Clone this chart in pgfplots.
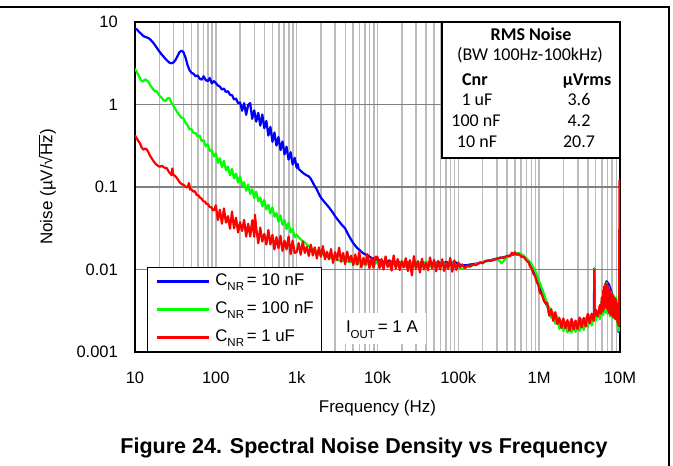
\documentclass[border=0pt]{standalone}
\usepackage{fontspec}
\setmainfont{Liberation Sans}
\newfontfamily\calibri{Carlito}
\usepackage{pgfplots}
\pgfplotsset{compat=1.18}
\definecolor{gridlight}{HTML}{BBBBBB}
\definecolor{griddark}{HTML}{808080}
\definecolor{cblue}{HTML}{0000FF}
\definecolor{cgreen}{HTML}{00FF00}
\definecolor{cred}{HTML}{FF0000}
\newcommand\lowsub[1]{\raisebox{-0.3em}{\fontsize{11.5bp}{12bp}\selectfont #1}}
\newcommand\ovl[1]{$\overline{\hbox{#1}}$}
\begin{document}
\begin{tikzpicture}
\useasboundingbox (0bp,0bp) rectangle (673bp,466bp);
\fill[white] (0bp,0bp) rectangle (673bp,466bp);
\begin{axis}[
  at={(135bp,114bp)}, anchor=south west,
  scale only axis, width=485bp, height=330bp,
  xmode=log, ymode=log,
  xmin=10, xmax=1e7, ymin=0.001, ymax=10,
  xtick={10,100,1000,10000,100000,1000000,10000000},
  xticklabels={10,100,1k,10k,100k,1M,10M},
  ytick={0.001,0.01,0.1,1,10},
  yticklabels={0.001,0.01,0.1,1,10},
  minor xtick={20,30,40,50,60,70,80,90,200,300,400,500,600,700,800,900,2000,3000,4000,5000,6000,7000,8000,9000,20000,30000,40000,50000,60000,70000,80000,90000,200000,300000,400000,500000,600000,700000,800000,900000,2e6,3e6,4e6,5e6,6e6,7e6,8e6,9e6},
  major tick length=0pt, minor tick length=0pt,
  xmajorgrids=true, xminorgrids=true, ymajorgrids=true, yminorgrids=false,
  major x grid style={gridlight, line width=1.6bp},
  minor x grid style={gridlight, line width=1.6bp},
  major y grid style={griddark, line width=1.7bp},
  axis line style={black, line width=2.2bp},
  tick label style={font=\fontsize{16.5bp}{19bp}\selectfont, black},
  xticklabel style={anchor=base, inner sep=0pt, yshift=-31.5bp},
  yticklabel style={anchor=east, inner sep=0pt, xshift=-17bp},
  xlabel={Frequency (Hz)},
  xlabel style={at={(axis description cs:0.5,-0.1848)}, anchor=base, inner sep=0pt, font=\fontsize{17bp}{20bp}\selectfont},
  ylabel={Noise (µV/√\ovl{Hz})},
  ylabel style={at={(axis description cs:-0.1705,0.5)}, anchor=base, inner sep=0pt, font=\fontsize{17bp}{20bp}\selectfont},
  legend style={at={(axis description cs:0.0247,0)}, anchor=south west, draw=black, line width=1.5bp, fill=white,
    inner xsep=8bp, inner ysep=6bp, row sep=12bp, column sep=5bp,
    font=\fontsize{16.8bp}{19bp}\selectfont,
    nodes={inner sep=0pt, text height=12bp, text depth=4bp}},
  legend cell align=left,
  legend image code/.code={\draw[#1, line width=2.6bp] (0bp,0bp) -- (52bp,0bp);},
  every axis plot/.append style={line width=2.2bp, line join=round},
]
\addplot[cblue, mark=none] coordinates {
(10,8.3)(10.6,8.1)(11.2,7.6)(11.9,7.2)(12.6,6.8)(13.3,6.6)(14.1,6.5)(15,6.3)(15.8,6.0)(16.8,5.6)(17.8,5.2)(18.8,4.8)(20,4.4)(21.1,4.1)(22.4,3.84)(23.7,3.6)(25.1,3.4)(26.6,3.22)(28.2,3.16)(29.8,3.22)(31.6,3.45)(33.5,3.85)(35.5,4.3)(37.6,4.5)(39.8,4.3)(42.2,3.7)(44.7,3.0)(47.3,2.6)(50.1,2.42)(53.1,2.35)(56.2,2.2)(59.6,2.25)(63.1,2.06)(66.8,2.0)(70.8,2.2)(75,1.98)(79.4,1.92)(84.1,2.1)(89.1,1.8)(94.4,1.92)
(100,1.82)(106,1.7)(112,1.65)(119,1.52)(126,1.56)(133,1.42)(141,1.45)(150,1.31)(158.5,1.3)(168,1.15)(178,1.18)(188,1.04)(199.5,1.06)
(211.3,0.84)(223.9,1.04)(237.1,0.75)(251.2,0.99)(266.1,1.04)(281.8,0.67)(298.5,0.85)(316.2,0.62)(335,0.79)(354.8,0.554)(375.8,0.756)(398.1,0.516)(421.7,0.633)(446.7,0.42)(473.2,0.534)(501.2,0.353)(530.9,0.458)(562.3,0.318)(595.7,0.403)(631,0.28)(668.3,0.357)(707.9,0.249)(749.9,0.308)(794.3,0.215)(841.4,0.264)(891.3,0.187)(944.1,0.226)(1000,0.171)
(1030,0.19)(1060,0.165)(1100,0.16)(1200,0.148)(1300,0.14)(1400,0.135)(1462,0.13)(1550,0.118)(1650,0.105)(1770,0.094)(1900,0.081)(2000,0.074)(2200,0.066)(2500,0.057)(2843,0.048)(3000,0.044)(3300,0.039)(3600,0.035)(3967,0.0316)(4300,0.027)(4600,0.024)(5024,0.0208)(5500,0.0186)(6000,0.0172)(6600,0.0158)(7350,0.015)(8000,0.0143)(8500,0.0138)(9000,0.0135)(9780,0.0132)(11000,0.0128)
(12600,0.0122)(14100,0.0129)(15800,0.0117)(17800,0.0126)(20000,0.0116)(22400,0.0125)(25100,0.0115)(28200,0.0124)(31600,0.0114)(35500,0.0124)(39800,0.0115)(44700,0.0123)(50100,0.0114)(56200,0.0124)(63100,0.0115)(70800,0.0124)(79400,0.0116)(89100,0.0124)(100000,0.0117)(112000,0.0112)(126000,0.0113)(141000,0.0115)(158000,0.0117)(178000,0.0119)(200000,0.0123)(224000,0.0127)(251000,0.013)(282000,0.0134)(316000,0.0137)(355000,0.014)(398000,0.0144)(436000,0.0148)(480000,0.0153)(527000,0.0156)(562000,0.0154)(600000,0.015)(650000,0.0142)(701000,0.0132)(750000,0.0122)(800000,0.0112)(848000,0.0098)(900000,0.0087)(950000,0.0074)(1.0e6,0.0062)(1.07e6,0.0052)(1.14e6,0.0045)(1.24e6,0.0037)(1.38e6,0.0031)(1.5e6,0.0027)(1.65e6,0.0024)(2.0e6,0.0021)(2.65e6,0.002)(3.5e6,0.0022)(4.4e6,0.0025)(4.75e6,0.0026)(4.81e6,0.0103)(4.87e6,0.0027)(5.5e6,0.003)(6.0e6,0.0038)(6.5e6,0.006)(6.8e6,0.0072)(7.3e6,0.0066)(8.0e6,0.005)(8.8e6,0.0042)(9.3e6,0.0026)(9.6e6,0.00175)(1.0e7,0.0018)
};
\addlegendentry{C\lowsub{NR}\,= 10 nF}
\addplot[cgreen, mark=none] coordinates {
(10,2.72)(10.6,2.45)(11.2,2.2)(11.9,1.95)(12.6,1.9)(13.3,2.02)(14,1.95)(14.6,1.9)(15.5,1.7)(16.5,1.56)(17.7,1.44)(18.5,1.46)(19.5,1.33)(20.5,1.25)(21.5,1.2)(22.4,1.14)(23.7,1.1)(25.1,1.18)(26.6,1.2)(28.2,1.05)(29.8,0.97)(31.6,0.88)(33.5,0.8)(35.5,0.74)(37.6,0.69)(39.8,0.68)(42.2,0.6)(44.7,0.56)(47.3,0.5)(50.1,0.5)(53.1,0.45)(56.2,0.45)(59.6,0.41)(63.1,0.42)(66.8,0.36)(70.8,0.37)(75,0.31)(79.4,0.33)(84.1,0.275)(89.1,0.28)(94.4,0.235)
(100,0.255)(105.9,0.196)(112.2,0.223)(118.9,0.174)(125.9,0.2075)(133.4,0.1597)(141.3,0.1763)(149.6,0.1387)(158.5,0.1657)(167.9,0.1273)(177.8,0.1447)(188.4,0.113)(199.5,0.1347)(211.3,0.1037)(223.9,0.1145)(237.1,0.09)(251.2,0.1076)(266.1,0.0826)(281.8,0.094)(298.5,0.0733)(316.2,0.0875)(335,0.0673)(354.8,0.0743)(375.8,0.0584)(398.1,0.0698)(421.7,0.0536)(446.7,0.061)(473.2,0.0476)(501.2,0.0568)(530.9,0.0437)(562.3,0.0482)(595.7,0.0379)(631,0.0453)(668.3,0.0348)(707.9,0.0396)(749.9,0.0309)(794.3,0.0368)(841.4,0.0284)(891.3,0.0313)(944.1,0.0246)
(1000,0.0265)(1060,0.0245)(1122,0.0232)(1190,0.0222)(1260,0.0212)(1330,0.0202)(1413,0.0192)(1500,0.0184)(1600,0.0176)(1700,0.0168)(1800,0.0158)(1900,0.0152)(2000,0.015)(2100,0.0155)(2240,0.0146)(2500,0.0141)(2800,0.0136)(3100,0.0131)(3500,0.0128)(4000,0.0126)(4500,0.0124)
(5000,0.0123)(5620,0.0115)(6310,0.0126)(7080,0.0112)(7940,0.0125)(8910,0.0111)(10000,0.0126)(11200,0.011)(12600,0.0125)(14100,0.0109)(15800,0.0127)(17800,0.011)(20000,0.0125)(22400,0.0108)(25100,0.0126)(28200,0.0109)(31600,0.0125)(35500,0.0108)(39800,0.0126)(44700,0.0109)(50100,0.0125)(56200,0.0108)(63100,0.0124)(70800,0.0109)(79400,0.0125)(89100,0.0108)(100000,0.0112)
(105000,0.0103)(112000,0.0101)(120000,0.0104)(135000,0.011)(150000,0.0112)(170000,0.0117)(185000,0.012)(210000,0.0124)(250000,0.0128)(298000,0.0134)(320000,0.0128)(344000,0.0119)(365000,0.0128)(400000,0.014)(436000,0.0148)(470000,0.0152)(527000,0.0156)(560000,0.0158)(600000,0.0154)(650000,0.0146)(701000,0.0136)(750000,0.0127)(800000,0.0118)(848000,0.0106)(900000,0.0095)(950000,0.0083)(1.0e6,0.0072)(1.06e6,0.0062)(1.12e6,0.0054)(1.19e6,0.0045)(1.26e6,0.0039)
(1.3e6,0.003)(1.34e6,0.0035)(1.41e6,0.0026)(1.5e6,0.003)(1.58e6,0.0022)(1.68e6,0.0027)(1.78e6,0.0019)(1.88e6,0.0024)(2.0e6,0.0018)(2.11e6,0.0023)(2.24e6,0.00172)(2.37e6,0.0023)(2.51e6,0.00172)(2.66e6,0.0023)(2.82e6,0.00175)(2.99e6,0.0024)(3.16e6,0.0018)(3.35e6,0.0025)(3.55e6,0.00185)(3.76e6,0.0026)(3.98e6,0.002)(4.22e6,0.0028)(4.47e6,0.0021)(4.73e6,0.0028)(4.78e6,0.0025)(4.81e6,0.0101)(4.84e6,0.0025)(5.01e6,0.0024)(5.31e6,0.0031)(5.62e6,0.0025)(5.96e6,0.0043)(6.2e6,0.0028)(6.4e6,0.0062)(6.6e6,0.003)(6.8e6,0.0069)(7.0e6,0.0029)(7.2e6,0.0062)(7.5e6,0.0027)(7.8e6,0.0053)(8.1e6,0.0026)(8.4e6,0.0048)(8.7e6,0.0025)(9.0e6,0.0046)(9.3e6,0.0021)(9.6e6,0.0018)(1.0e7,0.002)
};
\addlegendentry{C\lowsub{NR}\,= 100 nF}
\addplot[cred, mark=none] coordinates {
(10,0.42)(10.5,0.39)(11,0.36)(11.5,0.34)(12,0.305)(12.7,0.283)(13.3,0.292)(14,0.285)(14.7,0.262)(15.3,0.24)(16,0.225)(17,0.205)(18,0.19)(18.6,0.186)(19.5,0.179)(20.4,0.176)(21.5,0.181)(22.4,0.175)(23.5,0.17)(24.7,0.169)(26,0.155)(27.2,0.146)(28.3,0.139)(29,0.168)(29.8,0.141)(31,0.137)(32.5,0.131)(34,0.123)(36,0.113)(37.6,0.109)(39.6,0.106)(41,0.104)(43,0.099)(45,0.1)(46.5,0.112)(48,0.093)(50,0.094)(52.6,0.088)(55,0.089)(58,0.08)(61,0.079)(64,0.074)(67,0.072)(70,0.067)(73,0.067)(76.9,0.062)(80,0.062)(84,0.057)(88,0.057)(92,0.052)(96,0.053)
(100,0.06)(105.9,0.0398)(112.2,0.0531)(118.9,0.0359)(125.9,0.055)(133.4,0.037)(141.3,0.0443)(149.6,0.0312)(158.5,0.0504)(167.9,0.0315)(177.8,0.0425)(188.4,0.0281)(199.5,0.0374)(211.3,0.0293)(223.9,0.04)(237.1,0.0251)(251.2,0.0358)(266.1,0.0252)(281.8,0.0395)(298.5,0.0249)(305,0.046)(316.2,0.0316)(335,0.0208)(354.8,0.0322)(375.8,0.0218)(398.1,0.027)(421.7,0.0201)(446.7,0.0302)(473.2,0.0201)(501.2,0.0263)(530.9,0.0175)(562.3,0.0247)(595.7,0.0181)(631,0.0256)(668.3,0.0168)(707.9,0.0224)(749.9,0.0175)(794.3,0.0251)(841.4,0.0154)(891.3,0.0224)(944.1,0.0159)
(1000,0.0163)(1059,0.0209)(1122,0.0151)(1189,0.0218)(1259,0.0159)(1334,0.0189)(1413,0.0146)(1496,0.02)(1585,0.0148)(1679,0.0186)(1778,0.0136)(1884,0.0185)(1995,0.0143)(2113,0.0192)(2239,0.0133)(2371,0.0164)(2512,0.0133)(2661,0.0177)(2818,0.012)(2985,0.0162)(3162,0.013)(3350,0.0184)(3548,0.0124)(3758,0.0159)(3981,0.0116)(4217,0.0165)(4467,0.0125)(4732,0.0147)(5012,0.0113)(5309,0.0152)(5623,0.0115)(5957,0.0163)(6310,0.0106)(6683,0.0138)(7079,0.0115)(7499,0.0153)(7943,0.0104)(8414,0.0138)(8913,0.0105)(9441,0.0143)
(10000,0.0142)(10590,0.0104)(11220,0.0134)(11890,0.00998)(12590,0.0144)(13340,0.0107)(14130,0.0128)(14960,0.0097)(15850,0.0148)(16790,0.0103)(17780,0.0134)(18840,0.00985)(19950,0.0126)(21130,0.0106)(22390,0.0137)(23710,0.00957)(25120,0.013)(26610,0.0085)(28180,0.0145)(29850,0.0102)(31620,0.0126)(33500,0.0092)(35480,0.0135)(37580,0.01)(39810,0.0121)(42170,0.0098)(44670,0.014)(47320,0.0103)(50120,0.0131)(53090,0.0095)(56230,0.0127)(59570,0.01)(63100,0.0133)(66830,0.0096)(70790,0.0122)(74990,0.0102)(79430,0.0138)(84140,0.0094)(89130,0.0129)(94410,0.0099)
(100000,0.0122)(105000,0.0106)(112000,0.0115)(120000,0.0104)(130000,0.0112)(140000,0.0108)(150000,0.0115)(165000,0.0113)(185000,0.0122)(200000,0.0119)(220000,0.0128)(250000,0.0127)(275000,0.0131)(298000,0.0134)(330000,0.014)(360000,0.0138)(400000,0.0146)(436000,0.0145)(460000,0.016)(480000,0.015)(500000,0.0162)(527000,0.015)(560000,0.0154)(600000,0.0143)(650000,0.0141)(701000,0.0127)(740000,0.0123)(771000,0.0109)(810000,0.0102)(848000,0.0089)(890000,0.0083)(933000,0.0071)(980000,0.0064)(1.02e6,0.0052)(1.08e6,0.005)(1.14e6,0.0042)(1.2e6,0.0039)
(1.259e6,0.00394)(1.334e6,0.00275)(1.413e6,0.0033)(1.496e6,0.00238)(1.585e6,0.00304)(1.679e6,0.00218)(1.778e6,0.00259)(1.884e6,0.00196)(1.995e6,0.00255)(2.113e6,0.00194)(2.239e6,0.00244)(2.371e6,0.00181)(2.512e6,0.00253)(2.661e6,0.00187)(2.818e6,0.0024)(2.985e6,0.00189)(3.162e6,0.00262)(3.35e6,0.00198)(3.548e6,0.00259)(3.758e6,0.00204)(3.981e6,0.0029)(4.217e6,0.00222)(4.467e6,0.00292)(4.732e6,0.00238)(4.78e6,0.0028)(4.81e6,0.0099)(4.84e6,0.0027)(5.012e6,0.00325)(5.309e6,0.0027)(5.623e6,0.0037)(5.8e6,0.0029)(5.957e6,0.0046)(6.1e6,0.0031)(6.2e6,0.0056)(6.31e6,0.0033)(6.4e6,0.0063)(6.5e6,0.0035)(6.6e6,0.0068)(6.683e6,0.0036)(6.8e6,0.0067)(6.9e6,0.0034)(7.0e6,0.0065)(7.079e6,0.0032)(7.2e6,0.0061)(7.3e6,0.003)(7.4e6,0.0058)(7.5e6,0.0029)(7.65e6,0.0053)(7.8e6,0.0028)(7.943e6,0.005)(8.1e6,0.0027)(8.25e6,0.0047)(8.414e6,0.0026)(8.6e6,0.0045)(8.8e6,0.0025)(8.913e6,0.0043)(9.05e6,0.0025)(9.2e6,0.0039)(9.3e6,0.0023)(9.441e6,0.0034)(9.55e6,0.0021)(9.65e6,0.0031)(9.75e6,0.0021)(9.8e6,0.031)(9.83e6,0.0024)(9.87e6,0.121)(9.9e6,0.0022)(9.95e6,0.0026)(1.0e7,0.0021)
};
\addlegendentry{C\lowsub{NR}\,= 1 uF}
\end{axis}
% RMS noise table
\draw[black, line width=1.5bp, fill=white] (442bp,308bp) rectangle (620bp,444bp);
\begin{scope}[every node/.style={inner sep=0pt, anchor=base}]
\node[font=\calibri\fontsize{18bp}{21bp}\selectfont\bfseries] at (531bp,425bp) {RMS Noise};
\node[font=\calibri\fontsize{18bp}{21bp}\selectfont] at (530bp,405bp) {(BW 100Hz-100kHz)};
\node[font=\calibri\fontsize{18bp}{21bp}\selectfont\bfseries] at (475bp,380bp) {Cnr};
\node[font=\calibri\fontsize{18bp}{21bp}\selectfont\bfseries] at (587bp,380bp) {µVrms};
\node[font=\calibri\fontsize{18bp}{21bp}\selectfont] at (477bp,360bp) {1 uF};
\node[font=\calibri\fontsize{18bp}{21bp}\selectfont] at (579bp,360bp) {3.6};
\node[font=\calibri\fontsize{18bp}{21bp}\selectfont] at (476bp,339bp) {100 nF};
\node[font=\calibri\fontsize{18bp}{21bp}\selectfont] at (579bp,339bp) {4.2};
\node[font=\calibri\fontsize{18bp}{21bp}\selectfont] at (477bp,318bp) {10 nF};
\node[font=\calibri\fontsize{18bp}{21bp}\selectfont] at (579bp,318bp) {20.7};
% IOUT annotation
\fill[white] (339bp,122bp) rectangle (426bp,153bp);
\node[font=\fontsize{17bp}{19bp}\selectfont] at (382bp,133bp) {I\lowsub{OUT}\,= 1 A};
% caption
\node[font=\fontsize{21.5bp}{24bp}\selectfont\bfseries] at (364bp,13bp) {Figure 24. Spectral Noise Density vs Frequency};
\end{scope}
% frame
\draw[black, line width=1.5bp] (0bp,459bp) -- (669bp,459bp) -- (669bp,0bp);
\end{tikzpicture}
\end{document}
